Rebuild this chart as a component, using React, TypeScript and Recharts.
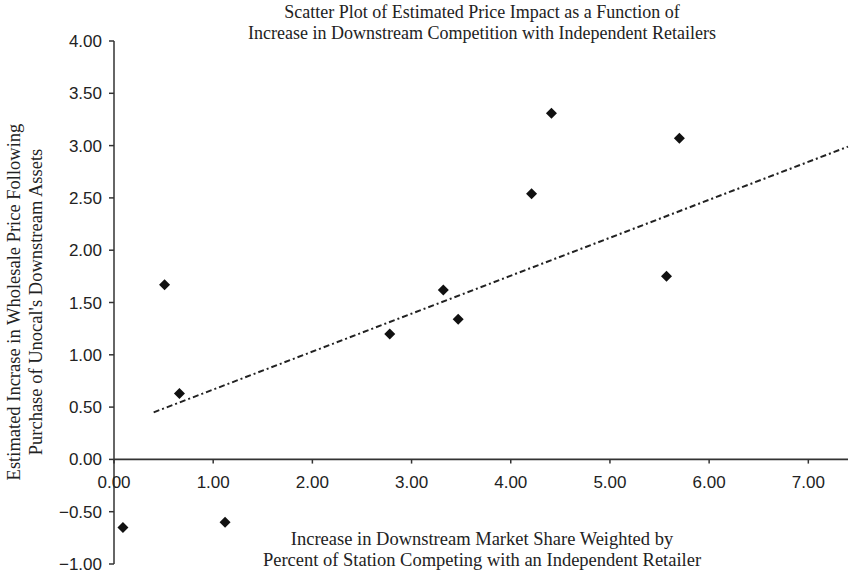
import React from "react";
import { ScatterChart, Scatter, XAxis, YAxis, ReferenceLine } from "recharts";

const shareX = [0.09, 0.51, 0.66, 1.12, 2.78, 3.32, 3.47, 4.21, 4.41, 5.57, 5.7];
const priceY = [-0.65, 1.67, 0.63, -0.6, 1.2, 1.62, 1.34, 2.54, 3.31, 1.75, 3.07];
const trendX = [0.4, 7.4];
const trendY = [0.45, 2.99];
const xTicks = [0, 1, 2, 3, 4, 5, 6, 7];
const yTicks = [-1, -0.5, 0, 0.5, 1, 1.5, 2, 2.5, 3, 3.5, 4];
const titleLines = [
  "Scatter Plot of Estimated Price Impact as a Function of",
  "Increase in Downstream Competition with Independent Retailers",
];
const xLabelLines = [
  "Increase in Downstream Market Share Weighted by",
  "Percent of Station Competing with an Independent Retailer",
];
const yLabelLines = [
  "Estimated Incrase in Wholesale Price Following",
  "Purchase of Unocal's Downstream Assets",
];

const points = shareX.map((x, i) => ({ x, y: priceY[i] }));
const trend = trendX.map((x, i) => ({ x, y: trendY[i] }));

const fmt = (v: number) => v.toFixed(2).replace("-", "\u2212");

const AXIS = "#333";
const INK = "#222";
const SANS = "'Liberation Sans', Arial, sans-serif";
const SERIF = "'Liberation Serif', 'Times New Roman', serif";

const Diamond = (props: any) => {
  const { cx, cy } = props;
  const s = 5.5;
  return (
    <polygon
      points={`${cx},${cy - s} ${cx + s},${cy} ${cx},${cy + s} ${cx - s},${cy}`}
      fill="#111"
    />
  );
};

const NoShape = () => <g />;

export default function App() {
  return (
    <div style={{ position: "absolute", left: 0, top: 0, width: 850, height: 575, background: "#fff" }}>
      <ScatterChart width={850} height={575} margin={{ top: 41, right: 2, bottom: 11, left: 0 }}>
        <XAxis type="number" dataKey="x" domain={[0, 7.4]} ticks={xTicks} hide />
        <YAxis
          type="number"
          dataKey="y"
          domain={[-1, 4]}
          ticks={yTicks}
          width={114}
          tickFormatter={fmt}
          tickSize={5}
          tickMargin={7}
          axisLine={{ stroke: AXIS, strokeWidth: 1.5 }}
          tickLine={{ stroke: AXIS, strokeWidth: 1.5 }}
          tick={{ fill: INK, fontSize: 17, fontFamily: SANS }}
          interval={0}
        />
        <ReferenceLine y={0} stroke={AXIS} strokeWidth={1.8} />
        {xTicks.map((t) => (
          <ReferenceLine
            key={t}
            segment={[
              { x: t, y: 0 },
              { x: t, y: -0.04 },
            ]}
            stroke={AXIS}
            strokeWidth={1.5}
            label={{
              value: fmt(t),
              position: "bottom",
              offset: 12,
              fill: INK,
              fontSize: 17,
              fontFamily: SANS,
            }}
          />
        ))}
        <Scatter
          data={trend}
          line={{ stroke: INK, strokeWidth: 2, strokeDasharray: "6 3 2 3" }}
          shape={NoShape}
          isAnimationActive={false}
        />
        <Scatter data={points} shape={Diamond} isAnimationActive={false} />
      </ScatterChart>
      <div
        style={{
          position: "absolute",
          left: 132,
          width: 700,
          top: 2,
          textAlign: "center",
          fontFamily: SERIF,
          fontSize: 18,
          lineHeight: "21px",
          color: INK,
          whiteSpace: "nowrap",
        }}
      >
        {titleLines.map((l) => (
          <div key={l}>{l}</div>
        ))}
      </div>
      <div
        style={{
          position: "absolute",
          left: 132,
          width: 700,
          top: 529,
          textAlign: "center",
          fontFamily: SERIF,
          fontSize: 18.5,
          lineHeight: "21px",
          color: INK,
          whiteSpace: "nowrap",
        }}
      >
        {xLabelLines.map((l) => (
          <div key={l}>{l}</div>
        ))}
      </div>
      <div
        style={{
          position: "absolute",
          left: 24.5 - 250,
          top: 302 - 22,
          width: 500,
          height: 44,
          transform: "rotate(-90deg)",
          transformOrigin: "250px 22px",
          textAlign: "center",
          fontFamily: SERIF,
          fontSize: 18.5,
          lineHeight: "22px",
          color: INK,
          whiteSpace: "nowrap",
        }}
      >
        {yLabelLines.map((l) => (
          <div key={l}>{l}</div>
        ))}
      </div>
    </div>
  );
}
